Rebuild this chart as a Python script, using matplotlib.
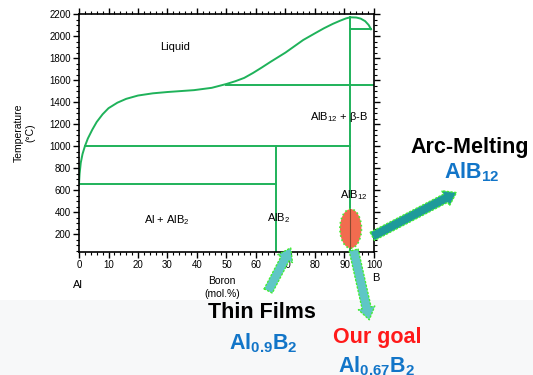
import matplotlib.pyplot as plt
from matplotlib.patches import Ellipse, Rectangle, FancyArrowPatch
from matplotlib.ticker import MultipleLocator

plt.rcParams["font.family"] = ["Liberation Sans", "DejaVu Sans"]
plt.rcParams["mathtext.fontset"] = "custom"
plt.rcParams["mathtext.rm"] = "Liberation Sans"
plt.rcParams["mathtext.it"] = "Liberation Sans:italic"
plt.rcParams["mathtext.bf"] = "Liberation Sans:bold"

# liquidus curve (mol.% B, temperature in C)
liq_x = [0, 0.2, 0.6, 1.2, 2.0, 3.0, 4.5, 6, 8, 10, 13, 16, 20, 25, 30, 39,
         45, 50, 53, 56, 59, 62, 65, 70, 76, 80, 83, 86, 88.5, 90.5, 92, 94,
         95.5, 97, 98.2, 99]
liq_t = [660, 750, 850, 930, 1000, 1070, 1150, 1220, 1290, 1345, 1395, 1430,
         1460, 1480, 1492, 1509, 1530, 1565, 1590, 1620, 1665, 1715, 1767,
         1850, 1964, 2025, 2070, 2110, 2139, 2160, 2170, 2168, 2158, 2135,
         2100, 2061]

# invariant lines: (x start, x end, temperature)
h_lines = [(0, 66.7, 660), (2.0, 92, 1000), (50, 100, 1555), (92, 99, 2061)]
# compound lines: (x, t bottom, t top)
v_lines = [(66.7, 40, 1000), (92, 40, 2170)]

region_labels = [
    ("Liquid", 32.5, 1900),
    ("Al + AlB$_2$", 29.7, 330),
    ("AlB$_2$", 67.6, 350),
    ("AlB$_{12}$", 93, 560),
]

green = "#1fb25a"

fig = plt.figure(figsize=(5.33, 3.75), dpi=100)
fig.patches.append(Rectangle((0, 0), 1, 75 / 375, transform=fig.transFigure,
                             facecolor="#f7f8f9", edgecolor="none", zorder=-5))

ax = fig.add_axes([79 / 533, 1 - 252 / 375, 295 / 533, 238 / 375])
ax.set_facecolor("white")

ax.plot(liq_x, liq_t, color=green, linewidth=1.4)
for x0, x1, t in h_lines:
    ax.plot([x0, x1], [t, t], color=green, linewidth=1.4)
for x, t0, t1 in v_lines:
    ax.plot([x, x], [t0, t1], color=green, linewidth=1.4)

for txt, x, t in region_labels:
    ax.text(x, t, txt, fontsize=8, ha="center", va="center")
ax.text(98, 1266, "AlB$_{12}$ + β-B", fontsize=8, ha="right", va="center")

ax.set_xlim(0, 100)
ax.set_ylim(40, 2200)
ax.xaxis.set_major_locator(MultipleLocator(10))
ax.xaxis.set_minor_locator(MultipleLocator(2))
ax.yaxis.set_minor_locator(MultipleLocator(50))
ax.set_yticks(range(200, 2201, 200))
ax.tick_params(which="both", top=True, right=True, direction="out",
               labelsize=7, pad=2)
ax.tick_params(axis="x", which="both", direction="out")
ax.tick_params(which="major", length=4, width=1)
ax.tick_params(which="minor", length=2, width=0.8)
for s in ax.spines.values():
    s.set_linewidth(1.2)

ax.set_ylabel("Temperature\n(°C)", fontsize=7.5, labelpad=10)
ax.text(-0.5, -0.14, "Al", transform=ax.get_xaxis_transform(), fontsize=8,
        ha="center", va="center")
ax.text(100.5, -0.11, "B", transform=ax.get_xaxis_transform(), fontsize=8,
        ha="center", va="center")
ax.text(48.5, -0.15, "Boron\n(mol.%)", transform=ax.get_xaxis_transform(),
        fontsize=7.5, ha="center", va="center", linespacing=1.3)

# AlB12 target region
ax.add_patch(Ellipse((92.1, 252), 7.3, 355, facecolor="#f26c4f",
                     edgecolor="#44ee33", linestyle=":", linewidth=1.2,
                     zorder=3, clip_on=False))
ax.plot([92, 92], [75, 430], color="#8a4a30", linewidth=0.8, zorder=4)

# arrows (data coordinates, drawn beyond the axes)
arrows = [((98.6, 170), (128.8, 591), "#1e9a9a"),
          ((63.7, -336), (72.2, 100), "#5fc6c6"),
          ((92.9, 82), (98.6, -600), "#5fc6c6")]
for tail, head, col in arrows:
    ax.add_patch(FancyArrowPatch(tail, head,
                                 arrowstyle="simple,head_width=1.1,head_length=0.8,tail_width=0.6",
                                 mutation_scale=11, facecolor=col,
                                 edgecolor="#44ee33", linestyle=":",
                                 linewidth=1, clip_on=False, zorder=5))

blue = "#1275c8"
fs = 15.5
fig.text(470 / 533, 1 - 147 / 375, "Arc-Melting", fontsize=fs, weight="bold",
         ha="center", va="center")
fig.text(472 / 533, 1 - 172 / 375, "AlB$_{\\mathbf{12}}$", fontsize=fs,
         weight="bold", color=blue, ha="center", va="center")
fig.text(262 / 533, 1 - 313 / 375, "Thin Films", fontsize=fs, weight="bold",
         ha="center", va="center")
fig.text(263 / 533, 1 - 343 / 375, "Al$_{\\mathbf{0.9}}$B$_{\\mathbf{2}}$",
         fontsize=fs, weight="bold", color=blue, ha="center", va="center")
fig.text(377 / 533, 1 - 338 / 375, "Our goal", fontsize=fs, weight="bold",
         color="#ff1a1a", ha="center", va="center")
fig.text(377 / 533, 1 - 366 / 375, "Al$_{\\mathbf{0.67}}$B$_{\\mathbf{2}}$",
         fontsize=fs, weight="bold", color=blue, ha="center", va="center")

fig.savefig("out.png", dpi=100)
